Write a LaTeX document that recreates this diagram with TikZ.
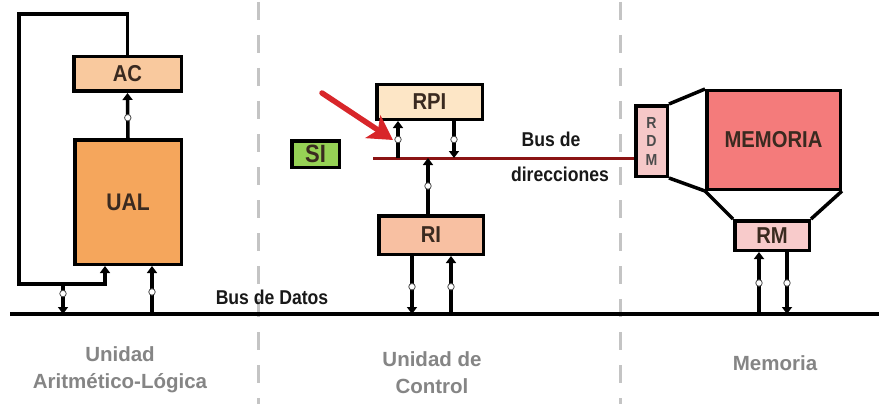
\documentclass[tikz,border=0pt]{standalone}
\usepackage{fontspec}
\setmainfont{Liberation Sans}
\newfontfamily\lblfont[FakeStretch=0.88]{Liberation Sans}
\usetikzlibrary{arrows.meta,calc}
\definecolor{acfill}{HTML}{F9C99E}
\definecolor{ualfill}{HTML}{F5A65C}
\definecolor{rpifill}{HTML}{FDE6C6}
\definecolor{rifill}{HTML}{F8C0A2}
\definecolor{sifill}{HTML}{96D255}
\definecolor{rdmfill}{HTML}{F6C8C8}
\definecolor{memfill}{HTML}{F47B7B}
\definecolor{rmfill}{HTML}{F8CBCB}
\definecolor{abus}{HTML}{8B1414}
\definecolor{redarrow}{HTML}{D8262A}
\definecolor{labelgray}{HTML}{858585}
\definecolor{dashgray}{HTML}{C4C4C4}
\definecolor{boxtext}{HTML}{3A2A20}
\begin{document}
\begin{tikzpicture}[x=1pt,y=-1pt,
  box/.style={draw=black, line width=3.5pt, inner sep=0pt, text=boxtext,
    font=\lblfont\bfseries\fontsize{23}{26}\selectfont},
  conn/.style={draw=black, line width=3.5pt},
  arr/.style={conn, -{Triangle[width=10pt,length=7pt]}},
  mk/.style={circle, draw=black!70, fill=white, line width=0.8pt,
    minimum size=6.5pt, inner sep=0pt},
  divider/.style={draw=dashgray, line width=3pt, dash pattern=on 18pt off 15pt},
  buslabel/.style={inner sep=0pt, text=black!90,
    font=\lblfont\bfseries\fontsize{20}{22}\selectfont},
  unitlabel/.style={inner sep=0pt, text=labelgray, align=center,
    font=\bfseries\fontsize{20.5}{27}\selectfont}
]
\useasboundingbox (0,0) rectangle (884,404);
\fill[white] (0,0) rectangle (884,404);

% dividers
\coordinate (d1t) at (258,2);
\coordinate (d1b) at (258,404);
\coordinate (d2t) at (620,2);
\coordinate (d2b) at (620,404);
\draw[divider] (d1t) -- (d1b);
\draw[divider] (d2t) -- (d2b);

% boxes
\node[box, fill=acfill, minimum width=107.5pt, minimum height=34.5pt] (AC) at (127.5,74) {AC};
\node[box, fill=ualfill, minimum width=106.5pt, minimum height=124.5pt, font=\lblfont\bfseries\fontsize{24}{26}\selectfont] (UAL) at (128,202) {UAL};
\node[box, fill=rpifill, minimum width=105.5pt, minimum height=34.5pt] (RPI) at (429.5,102) {RPI};
\node[box, fill=sifill, minimum width=47.5pt, minimum height=26.5pt, font=\lblfont\bfseries\fontsize{25}{26}\selectfont] (SI) at (315.5,154) {SI};
\node[box, fill=rifill, minimum width=104.5pt, minimum height=38.5pt] (RI) at (431,235) {RI};
\node[box, fill=rdmfill, minimum width=31.5pt, minimum height=70.5pt, align=center,
  font=\lblfont\bfseries\fontsize{16}{18.5}\selectfont, text=black!70] (RDM) at (651.5,141) {R\\D\\M};
\node[box, fill=memfill, minimum width=133.5pt, minimum height=98.5pt] (MEM) at (773.5,140) {MEMORIA};
\node[box, fill=rmfill, minimum width=74.5pt, minimum height=29.5pt] (RM) at (772,235.5) {RM};

% funnels
\draw[conn, line join=round] (RDM.north east) -- (MEM.north west);
\draw[conn, line join=round] (RDM.south east) -- (MEM.south west);
\draw[conn] (MEM.south west) -- (RM.north west);
\draw[conn] (MEM.south east) -- (RM.north east);

% buses
\coordinate (dbL) at (10,314);
\coordinate (dbR) at (879,314);
\draw[draw=black, line width=4.5pt] (dbL) -- (dbR);
\coordinate (abL) at (373,158);
\draw[draw=abus, line width=3pt] (abL) -- (abL -| RDM.west);

% ALU connections
\draw[arr] (UAL.north) -- node[mk, pos=0.45] (m1) {} (AC.south);
\coordinate (fbTL) at (19,14);
\coordinate (fbBL) at (19,284);
\coordinate (ualIn) at ([xshift=-23pt]UAL.south);
\coordinate (ualIn2) at ([xshift=24pt]UAL.south);
\coordinate (fbTap) at (63,284);
\draw[arr, line join=miter] (AC.north) |- (fbTL) -- (fbBL) -| (ualIn);
\draw[arr] (fbTap) -- node[mk, pos=0.32] (m2) {} (fbTap |- dbL);
\draw[arr] (ualIn2 |- dbL) -- node[mk, pos=0.46] (m3) {} (ualIn2);

% control unit connections
\coordinate (rpiIn) at ([xshift=-31.5pt]RPI.south);
\coordinate (rpiOut) at ([xshift=24.5pt]RPI.south);
\draw[arr] (rpiIn |- abL) -- node[mk, pos=0.5] (m4) {} (rpiIn);
\draw[arr] (rpiOut) -- node[mk, pos=0.5] (m5) {} (rpiOut |- abL);
\coordinate (riUp) at ([xshift=-3pt]RI.north);
\draw[arr] (riUp) -- node[mk, pos=0.5] (m6) {} (riUp |- abL);
\coordinate (riOut) at ([xshift=-19pt]RI.south);
\coordinate (riIn) at ([xshift=20pt]RI.south);
\draw[arr] (riOut) -- node[mk, pos=0.53] (m7) {} (riOut |- dbL);
\draw[arr] (riIn |- dbL) -- node[mk, pos=0.47] (m8) {} (riIn);

% memory connections
\coordinate (rmIn) at ([xshift=-13pt]RM.south);
\coordinate (rmOut) at ([xshift=15pt]RM.south);
\draw[arr] (rmIn |- dbL) -- node[mk, pos=0.5] (m9) {} (rmIn);
\draw[arr] (rmOut) -- node[mk, pos=0.5] (m10) {} (rmOut |- dbL);

% red pointer arrow
\coordinate (redStart) at (322,93);
\coordinate (redTip) at (393,140);
\draw[draw=redarrow, line width=5.5pt, line cap=round,
  -{Stealth[width=27pt,length=24pt,inset=6pt]}] (redStart) -- (redTip);

% labels
\node[buslabel] (busdatos) at (272,297) {Bus de Datos};
\node[buslabel] (busdir1) at (551,139) {Bus de};
\node[buslabel] (busdir2) at (560,174) {direcciones};
\node[unitlabel] (ualbl) at (120,369.5) {Unidad\\Aritmético-Lógica};
\node[unitlabel] (uclbl) at (432,373) {Unidad de\\Control};
\node[unitlabel] (memlbl) at (775,363) {Memoria};
\end{tikzpicture}
\end{document}
